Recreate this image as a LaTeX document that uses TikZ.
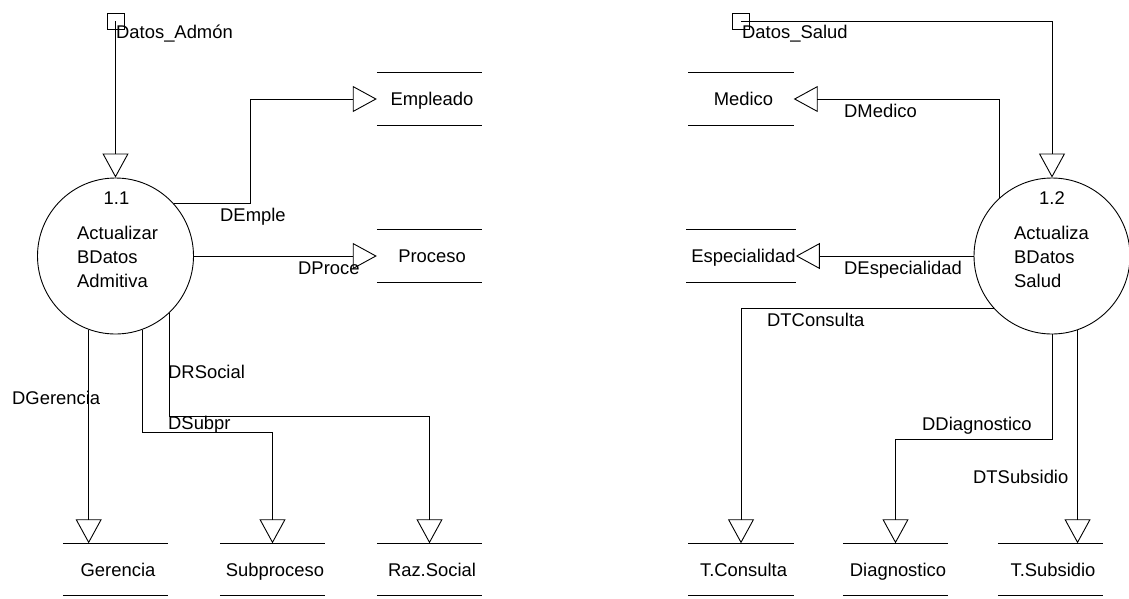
\documentclass[tikz,border=0pt]{standalone}
\usepackage{fontspec}
\setmainfont{Liberation Sans}
\usetikzlibrary{arrows.meta}
\tikzset{
  every node/.style={font=\fontsize{18.4}{24}\selectfont},
  proc/.style={circle, draw, line width=0.9pt, minimum size=156pt, inner sep=0pt},
  storeline/.style={draw, line width=0.9pt},
  store/.style={minimum width=105pt, minimum height=52pt, inner sep=0pt,
    text height=13pt, text depth=0pt, execute at begin node={\hspace*{5pt}},
    append after command={(\tikzlastnode.north west) edge[storeline] (\tikzlastnode.north east)
                          (\tikzlastnode.south west) edge[storeline] (\tikzlastnode.south east)}},
  ext/.style={draw, line width=0.9pt, minimum width=17pt, minimum height=16pt, inner sep=0pt},
  flow/.style={line width=0.9pt, -{Triangle[open, length=24pt, width=26pt, line width=0.9pt]}},
  lbl/.style={anchor=base west, inner sep=0pt},
  ptxt/.style={anchor=base west, inner sep=0pt},
}
\begin{document}
\begin{tikzpicture}[x=1pt,y=-1pt]
\useasboundingbox (0,0) rectangle (1129,598);
% processes
\node[proc] (p1) at (115.5,256) {};
\node[proc] (p2) at (1052,256) {};
\node[anchor=base, inner sep=0pt] (n1) at (116.5,204) {1.1};
\node[ptxt] (t1a) at (77,239) {Actualizar};
\node[ptxt] (t1b) at (77,263) {BDatos};
\node[ptxt] (t1c) at (77,287) {Admitiva};
\node[anchor=base, inner sep=0pt] (n2) at (1052,204) {1.2};
\node[ptxt] (t2a) at (1014,239) {Actualiza};
\node[ptxt] (t2b) at (1014,263) {BDatos};
\node[ptxt] (t2c) at (1014,287) {Salud};
% external entities
\node[ext] (e1) at (115.5,21) {};
\node[ext] (e2) at (741,21) {};
% stores
\node[store] (emp) at (429.5,99) {Empleado};
\node[store] (pro) at (429.5,256) {Proceso};
\node[store] (med) at (741,99) {Medico};
\node[store] (esp) at (741,256) {Especialidad};
\node[store] (ger) at (115.5,569.5) {Gerencia};
\node[store] (sub) at (272.5,569.5) {Subproceso};
\node[store] (raz) at (429.5,569.5) {Raz.Social};
\node[store] (tco) at (741,569.5) {T.Consulta};
\node[store] (dia) at (895.5,569.5) {Diagnostico};
\node[store] (tsu) at (1050.5,569.5) {T.Subsidio};
% flows left
\coordinate (k1) at (250,0);
\draw[flow] (e1.center) -- (p1.north);
\draw[flow] (p1.42) -- (p1.42 -| k1) |- (emp.west);
\draw[flow] (p1.east) -- (pro.west);
\draw[flow] (p1.250) -- (p1.250 |- ger.north);
\draw[flow] (p1.-70) -- ++(0,103) -| (sub.north);
\draw[flow] (p1.-47.7) -- ++(0,103.3) -| (raz.north);
% flows right
\draw[flow] (e2.center) -| (p2.north);
\draw[flow] (p2.132) |- (med.east);
\draw[flow] (p2.west) -- (esp.east);
\draw[flow] (p2.222) -| (tco.north);
\draw[flow] (p2.south) -- ++(0,105) -| (dia.north);
\draw[flow] (p2.-71.3) -- (p2.-71.3 |- tsu.north);
% labels
\node[lbl] (l1) at (116,38) {Datos\_Admón};
\node[lbl] (l2) at (220,221) {DEmple};
\node[lbl] (l3) at (298,274) {DProce};
\node[lbl] (l4) at (168,378) {DRSocial};
\node[lbl] (l5) at (12,404) {DGerencia};
\node[lbl] (l6) at (168,429) {DSubpr};
\node[lbl] (l7) at (742,38) {Datos\_Salud};
\node[lbl] (l8) at (844,117) {DMedico};
\node[lbl] (l9) at (844,274) {DEspecialidad};
\node[lbl] (l10) at (767,326) {DTConsulta};
\node[lbl] (l11) at (922,430) {DDiagnostico};
\node[lbl] (l12) at (973,483) {DTSubsidio};
\end{tikzpicture}
\end{document}
